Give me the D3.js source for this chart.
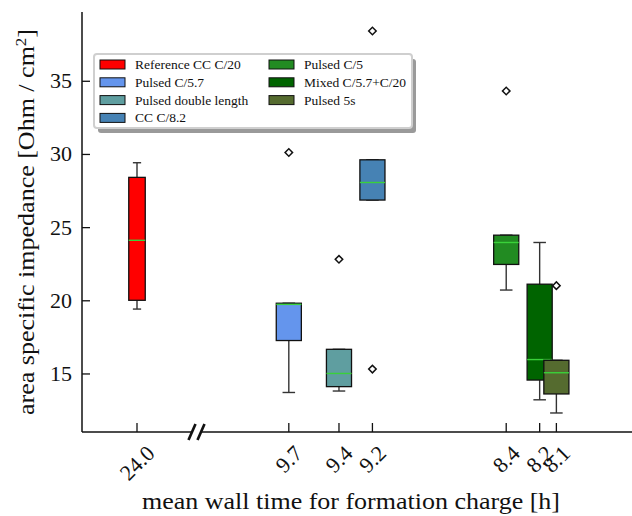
<!DOCTYPE html>
<html>
<head>
<meta charset="utf-8">
<script src="https://cdn.jsdelivr.net/npm/d3@7"></script>
<style>
  body { margin: 0; background: #fff; }
  svg text { font-family: "Liberation Serif", "DejaVu Serif", serif; fill: #111; }
</style>
</head>
<body>
<svg id="chart" width="632" height="516"></svg>
<script>
// box plot values
var groups = ["Reference CC C/20", "Pulsed C/5.7", "Pulsed double length", "CC C/8.2",
              "Pulsed C/5", "Mixed C/5.7+C/20", "Pulsed 5s"];
var wallTimes = [24.0, 9.7, 9.4, 9.2, 8.4, 8.2, 8.1];
var tickLabels = ["24.0", "9.7", "9.4", "9.2", "8.4", "8.2", "8.1"];
var colors = ["#ff0000", "#6495ed", "#5f9ea0", "#4682b4", "#228b22", "#006400", "#556b2f"];
var whiskerLow  = [19.4, 13.7, 13.8, 26.85, 20.7, 13.2, 12.3];
var q1          = [20.0, 17.25, 14.1, 26.85, 22.45, 14.55, 13.6];
var medians     = [24.1, 19.72, 15.0, 28.05, 23.95, 15.95, 15.05];
var q3          = [28.4, 19.8, 16.65, 29.6, 24.45, 21.1, 15.9];
var whiskerHigh = [29.4, 19.8, 16.65, 29.6, 24.45, 23.95, 15.9];
var outliers    = [[], [30.1], [22.8], [38.4, 15.3], [34.3], [], [21.0]];
var yTicks = [15, 20, 25, 30, 35];

var plotLeft = 82, plotTop = 12, plotBottom = 432, breakX = 197.5;
var boxHalf = 0.075; // hours

var svg = d3.select("#chart");

// broken x axis: 24 h on the left, the rest on the right
var x = d3.scaleLinear()
  .domain([24.5, 23.45, 10.246, 7.6])
  .range([plotLeft, breakX, breakX, 640]);

var y = d3.scaleLinear()
  .domain([11, 39.7])
  .range([plotBottom, plotTop]);

// y axis
var yAxis = d3.axisLeft(y).tickValues(yTicks).tickSize(-8).tickPadding(10).tickFormat(d3.format("d"));
var gy = svg.append("g").attr("transform", "translate(" + plotLeft + ",0)").call(yAxis);
gy.select(".domain").remove();
gy.selectAll(".tick line").attr("stroke", "#111").attr("stroke-width", 1.3);
gy.selectAll(".tick text").style("font-size", "22px").attr("fill", "#111")
  .style("font-family", "'Liberation Serif', serif");

svg.append("line")
  .attr("x1", plotLeft).attr("x2", plotLeft).attr("y1", plotTop).attr("y2", plotBottom)
  .attr("stroke", "#111").attr("stroke-width", 1.5);

// x axis line in two pieces with break marks
svg.append("line").attr("x1", plotLeft).attr("x2", breakX - 6).attr("y1", plotBottom).attr("y2", plotBottom)
  .attr("stroke", "#111").attr("stroke-width", 1.5);
svg.append("line").attr("x1", breakX + 4).attr("x2", 640).attr("y1", plotBottom).attr("y2", plotBottom)
  .attr("stroke", "#111").attr("stroke-width", 1.5);
[-5, 4].forEach(function(dx) {
  svg.append("line")
    .attr("x1", breakX + dx - 4).attr("y1", plotBottom + 8)
    .attr("x2", breakX + dx + 3).attr("y2", plotBottom - 8)
    .attr("stroke", "#111").attr("stroke-width", 2.6);
});

// x ticks + rotated labels
var gx = svg.append("g");
wallTimes.forEach(function(t, i) {
  gx.append("line")
    .attr("x1", x(t)).attr("x2", x(t)).attr("y1", plotBottom).attr("y2", plotBottom - 9)
    .attr("stroke", "#111").attr("stroke-width", 1.3);
  var lab = gx.append("text")
    .attr("text-anchor", "middle")
    .attr("dominant-baseline", "central")
    .style("font-size", "22px")
    .text(tickLabels[i]);
  var L = lab.node().getComputedTextLength();
  var half = (L + 15) * Math.SQRT1_2 / 2;
  lab.attr("transform", "translate(" + x(t) + "," + (plotBottom + 12 + half) + ") rotate(-45)");
});

// boxes
var boxes = svg.append("g");
wallTimes.forEach(function(t, i) {
  var x0 = x(t - boxHalf), x1 = x(t + boxHalf), cx = x(t);
  var capHalf = (x0 - x1) / 4;
  var g = boxes.append("g");
  // whiskers
  g.append("line").attr("x1", cx).attr("x2", cx).attr("y1", y(q1[i])).attr("y2", y(whiskerLow[i]))
    .attr("stroke", "#333").attr("stroke-width", 1.4);
  g.append("line").attr("x1", cx).attr("x2", cx).attr("y1", y(q3[i])).attr("y2", y(whiskerHigh[i]))
    .attr("stroke", "#333").attr("stroke-width", 1.4);
  g.append("line").attr("x1", cx - capHalf).attr("x2", cx + capHalf)
    .attr("y1", y(whiskerLow[i])).attr("y2", y(whiskerLow[i]))
    .attr("stroke", "#333").attr("stroke-width", 1.4);
  g.append("line").attr("x1", cx - capHalf).attr("x2", cx + capHalf)
    .attr("y1", y(whiskerHigh[i])).attr("y2", y(whiskerHigh[i]))
    .attr("stroke", "#333").attr("stroke-width", 1.4);
  // box
  g.append("rect")
    .attr("x", x1).attr("width", x0 - x1)
    .attr("y", y(q3[i])).attr("height", y(q1[i]) - y(q3[i]))
    .attr("fill", colors[i]).attr("stroke", "#111").attr("stroke-width", 1.3);
  // median
  g.append("line").attr("x1", x1).attr("x2", x0).attr("y1", y(medians[i])).attr("y2", y(medians[i]))
    .attr("stroke", "#3ad13a").attr("stroke-width", 1.4);
  // fliers
  g.selectAll("path.flier").data(outliers[i]).enter().append("path")
    .attr("class", "flier")
    .attr("d", d3.symbol(d3.symbolSquare, 28))
    .attr("transform", function(d) { return "translate(" + cx + "," + y(d) + ") rotate(45)"; })
    .attr("fill", "#fff").attr("stroke", "#111").attr("stroke-width", 1.5);
});

// legend
var lg = svg.append("g").attr("transform", "translate(94,54)");
lg.append("rect").attr("x", 4).attr("y", 5).attr("width", 318).attr("height", 74).attr("rx", 3)
  .attr("fill", "#9a9a9a");
lg.append("rect").attr("x", 0).attr("y", 0).attr("width", 318).attr("height", 74).attr("rx", 3)
  .attr("fill", "#fff").attr("stroke", "#cfcfcf").attr("stroke-width", 2);
groups.forEach(function(name, i) {
  var col = i < 4 ? 0 : 1, row = i < 4 ? i : i - 4;
  var item = lg.append("g").attr("transform", "translate(" + (6 + col * 169) + "," + (10.5 + row * 17.8) + ")");
  item.append("rect").attr("x", 0).attr("y", -4.5).attr("width", 25).attr("height", 9)
    .attr("fill", colors[i]).attr("stroke", "#111").attr("stroke-width", 1);
  item.append("text").attr("x", 35).attr("y", 0).attr("dominant-baseline", "central")
    .style("font-size", "13.5px").text(name);
});

// axis titles
svg.append("text")
  .attr("text-anchor", "middle")
  .attr("x", 351).attr("y", 509)
  .attr("textLength", 418).attr("lengthAdjust", "spacingAndGlyphs")
  .style("font-size", "23px")
  .text("mean wall time for formation charge [h]");

var yl = svg.append("text")
  .attr("text-anchor", "middle")
  .attr("transform", "translate(34,222) rotate(-90)")
  .attr("textLength", 386).attr("lengthAdjust", "spacingAndGlyphs")
  .style("font-size", "23px");
yl.append("tspan").text("area specific impedance [Ohm / cm");
yl.append("tspan").attr("baseline-shift", "super").style("font-size", "15px").text("2");
yl.append("tspan").text("]");
</script>
</body>
</html>
